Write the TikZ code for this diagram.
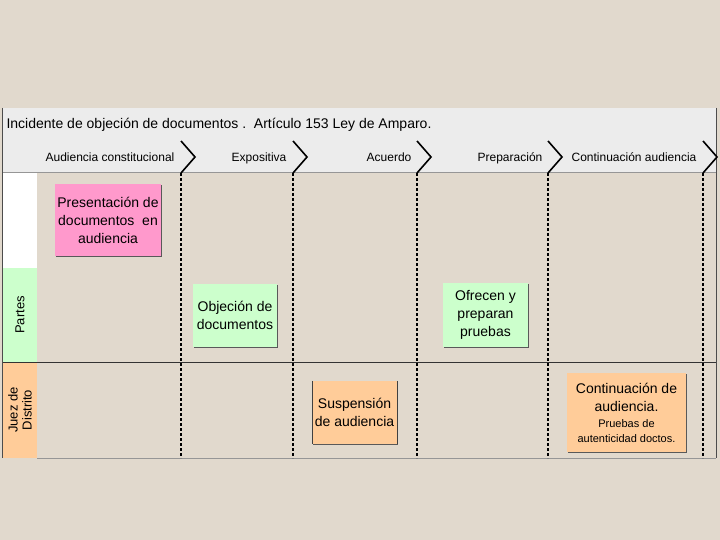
\documentclass[tikz,border=0pt]{standalone}
\usepackage{fontspec}
\setmainfont{Liberation Sans}
\usetikzlibrary{shadows}
\definecolor{fondo}{RGB}{225,217,205}
\definecolor{encabezado}{RGB}{236,236,236}
\definecolor{rosa}{RGB}{255,153,204}
\definecolor{verde}{RGB}{204,255,204}
\definecolor{naranja}{RGB}{255,204,153}
\definecolor{linea}{RGB}{150,150,150}

\begin{document}
\begin{tikzpicture}[x=1pt, y=-1pt,
  caja/.style={align=center, inner sep=0pt, font=\fontsize{14}{18}\selectfont,
    general shadow={fill=black!65, shadow xshift=1.2pt, shadow yshift=-1.2pt}},
  etapa/.style={anchor=base, font=\fontsize{12}{14}\selectfont},
  carril/.style={rotate=90, align=center, font=\fontsize{13}{14}\selectfont},
  separador/.style={line width=2pt, dash pattern=on 3pt off 2pt}]
  \fill[fondo] (0,0) rectangle (720,540);
  \useasboundingbox (0,0) rectangle (720,540);

  % encabezado
  \fill[encabezado] (2,108) rectangle (716,172);
  \node[anchor=west, font=\fontsize{14}{16}\selectfont] (titulo) at (3,125)
    {Incidente de objeción de documentos .\ \ Artículo 153 Ley de Amparo.};

  % carriles
  \fill[white] (2,172) rectangle (37,268);
  \fill[verde] (2,268) rectangle (37,362);
  \fill[naranja] (2,362) rectangle (37,458);
  \node[carril] (partes) at (20,315) {Partes};
  \node[carril] (juez) at (20,410) {Juez de\\Distrito};

  \draw[linea] (2,172) -- (716,172);
  \draw[linea] (37,458) -- (716,458);
  \draw[black!80] (2,362) -- (716,362);
  \draw[black!70] (2,108) -- (2,458);
  \draw[black!70] (716,108) -- (716,458);

  % etapas
  \node[etapa] (audiencia) at (110,161.5) {Audiencia constitucional};
  \node[etapa] (expositiva) at (259,161.5) {Expositiva};
  \node[etapa] (acuerdo) at (389,161.5) {Acuerdo};
  \node[etapa] (preparacion) at (510,161.5) {Preparación};
  \node[etapa] (continuacion) at (634,161.5) {Continuación audiencia};

  \foreach \x in {181,293,417,548,703} {
    \draw[line width=1.6pt] (\x,141) -- (\x+14,157) -- (\x,173);
    \draw[separador] (\x,173) -- (\x,458);
  }

  % actividades
  \node[caja, fill=rosa, minimum width=106pt, minimum height=72pt] (presentacion)
    at (108,220) {Presentación de\\documentos\ \ en\\audiencia};
  \node[caja, fill=verde, minimum width=84pt, minimum height=63pt] (objecion)
    at (235,315.5) {Objeción de\\documentos};
  \node[caja, fill=verde, minimum width=85pt, minimum height=64pt] (ofrecen)
    at (485.5,315) {Ofrecen y\\preparan\\pruebas};
  \node[caja, fill=naranja, minimum width=85pt, minimum height=63pt] (suspension)
    at (354.5,412.5) {Suspensión\\de audiencia};
  \draw[black!75] (suspension.north west) -- (suspension.south west);
  \draw[black!75] (suspension.north east) -- (suspension.south east);
  \node[caja, fill=naranja, minimum width=119pt, minimum height=79pt] (continua)
    at (626.5,412.5) {Continuación de\\audiencia.\\[-2pt]
    {\fontsize{11}{15}\selectfont Pruebas de}\\[-3pt]
    {\fontsize{11}{15}\selectfont autenticidad doctos.}};
\end{tikzpicture}
\end{document}
